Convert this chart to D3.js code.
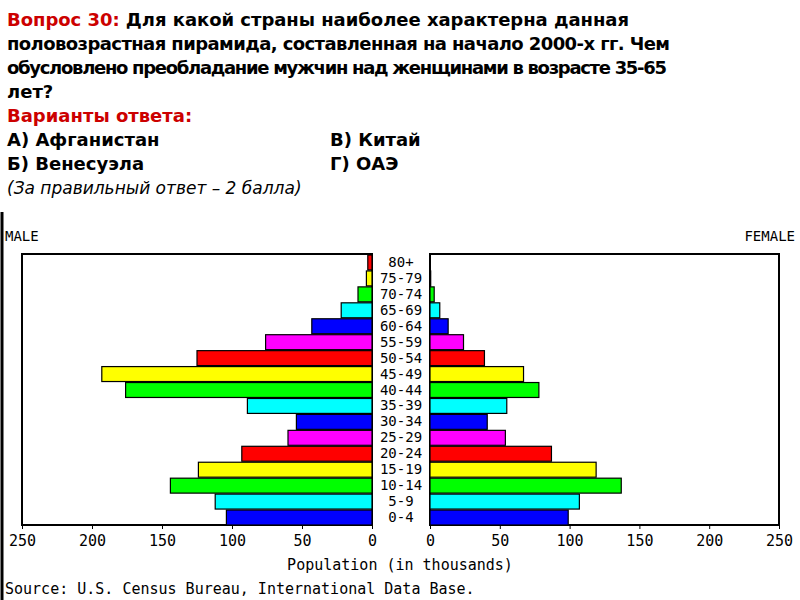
<!DOCTYPE html>
<html><head><meta charset="utf-8">
<script src="https://cdn.jsdelivr.net/npm/d3@7"></script>
<style>body{margin:0;background:#fff}</style>
</head><body>
<svg id="chart" width="800" height="600"></svg>
<script>
// возрастные группы снизу вверх
var ages   = ["0-4","5-9","10-14","15-19","20-24","25-29","30-34","35-39","40-44","45-49","50-54","55-59","60-64","65-69","70-74","75-79","80+"];
var male   = [104,112,144,124,93,60,54,89,176,193,125,76,43,22,10,4,3];
var female = [99,107,137,119,87,54,41,55,78,67,39,24,13,7,3,0.5,0];
var colors = ["#0000ff","#00ffff","#00ff00","#ffff00","#ff0000","#ff00ff"];
var ticks  = [0,50,100,150,200,250];

var svg = d3.select("#chart");
var qFont = "bold 18px 'DejaVu Sans',sans-serif";

// вопрос
var lines = [
	[{t:"Вопрос 30: ",c:"#cc0000"},{t:"Для какой страны наиболее характерна данная",c:"#000"}],
	[{t:"половозрастная пирамида, составленная на начало 2000-х гг.  Чем",c:"#000"}],
	[{t:"обусловлено преобладание мужчин над женщинами в возрасте 35-65",c:"#000"}],
	[{t:"лет?",c:"#000"}],
	[{t:"Варианты ответа:",c:"#cc0000"}]
];
lines.forEach(function(l,i)
{
	var t = svg.append("text").attr("x",7).attr("y",26+i*24).style("font",qFont)
		.attr("textLength",i==1?663:(i==0?622:(i==2?660:null)));
	l.forEach(function(s){ t.append("tspan").attr("fill",s.c).text(s.t); });
});
var opts = [["А) Афганистан","В) Китай"],["Б) Венесуэла","Г) ОАЭ"]];
opts.forEach(function(o,i)
{
	svg.append("text").attr("x",7).attr("y",146+i*24).text(o[0]).style("font",qFont);
	svg.append("text").attr("x",330).attr("y",146+i*24).text(o[1]).style("font",qFont);
});
svg.append("text").attr("x",7).attr("y",194).text("(За правильный ответ – 2 балла)")
	.style("font","oblique 17px 'DejaVu Sans',sans-serif");

// пирамида
var pTop = 254, pBottom = 525;
var y  = d3.scaleBand().domain(ages.slice().reverse()).range([pTop,pBottom]).paddingInner(0);
var xL = d3.scaleLinear().domain([0,250]).range([372,22]);
var xR = d3.scaleLinear().domain([0,250]).range([430,779]);
var mono = "14px 'DejaVu Sans Mono',monospace";

svg.append("line").attr("x1",2).attr("x2",2).attr("y1",212).attr("y2",600).attr("stroke","#000").attr("stroke-width",3);

[[xL,male],[xR,female]].forEach(function(p)
{
	var x = p[0];
	svg.append("rect").attr("x",d3.min(x.range())).attr("y",pTop)
		.attr("width",Math.abs(x.range()[1]-x.range()[0])).attr("height",pBottom-pTop)
		.attr("fill","#fff").attr("stroke","#000").attr("stroke-width",2);
	svg.selectAll(null).data(ages).enter().append("rect")
		.attr("x",function(d,i){ return Math.min(x(0),x(p[1][i])); })
		.attr("y",function(d){ return y(d)+1; })
		.attr("width",function(d,i){ return Math.abs(x(p[1][i])-x(0)); })
		.attr("height",y.bandwidth()-1)
		.attr("fill",function(d,i){ return colors[i%6]; })
		.attr("stroke","#000").attr("stroke-width",function(d,i){ return p[1][i]>0?1.2:0; });
	svg.append("g").attr("transform","translate(0,"+pBottom+")")
		.call(d3.axisBottom(x).tickValues(ticks).tickSize(4).tickFormat(d3.format("d")))
		.call(function(g){ g.select(".domain").remove(); })
		.selectAll("text").style("font","15px 'DejaVu Sans Mono',monospace").attr("dy","0.9em");
});

svg.selectAll(null).data(ages).enter().append("text")
	.attr("x",401).attr("y",function(d){ return y(d)+y.bandwidth()/2+5; })
	.attr("text-anchor","middle").style("font",mono).text(function(d){ return d; });

svg.append("text").attr("x",5).attr("y",241).style("font",mono).text("MALE");
svg.append("text").attr("x",795).attr("y",241).attr("text-anchor","end").style("font",mono).text("FEMALE");
svg.append("text").attr("x",400).attr("y",570).attr("text-anchor","middle")
	.style("font","15px 'DejaVu Sans Mono',monospace").text("Population (in thousands)");
svg.append("text").attr("x",5).attr("y",594)
	.style("font","15px 'DejaVu Sans Mono',monospace").text("Source: U.S. Census Bureau, International Data Base.");
</script>
</body></html>
